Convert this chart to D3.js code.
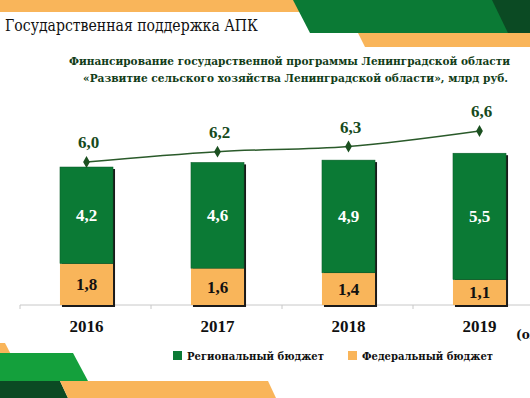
<!DOCTYPE html>
<html>
<head>
<meta charset="utf-8">
<script src="https://cdn.jsdelivr.net/npm/d3@7"></script>
<style>
    body { margin: 0; background: #fff; }
</style>
</head>
<body>
<div id="vis-holder"></div>
<script>
// Chart data
const years = ["2016", "2017", "2018", "2019"];
const federal = [1.8, 1.6, 1.4, 1.1];
const regional = [4.2, 4.6, 4.9, 5.5];
const totals = [6.0, 6.2, 6.3, 6.6];
const totalLabels = ["6,0", "6,2", "6,3", "6,6"];
const federalLabels = ["1,8", "1,6", "1,4", "1,1"];
const regionalLabels = ["4,2", "4,6", "4,9", "5,5"];

const width = 530,
    height = 398;

const green = "#0b7a35",
    orange = "#f9b55a",
    darkGreen = "#0b4a23",
    lightGreen = "#14a03c";

// Liberation Serif has no cyrillic here, so russian text uses DejaVu Serif
const numFont = "'Liberation Serif', serif";
const cyrFont = "'DejaVu Serif'";

const svg = d3.select("#vis-holder")
    .append("svg")
    .attr("width", width)
    .attr("height", height)
    .attr("font-family", numFont)
    .style("display", "block");

// decorative shapes (top right, bottom left)
const deco = svg.append("g").attr("class", "deco");
const poly = (pts, fill) => deco.append("polygon")
    .attr("points", pts.map(p => p.join(",")).join(" "))
    .attr("fill", fill);

poly([[0, 0], [300, 0], [300, 12], [0, 12]], orange);
poly([[293, 0], [530, 0], [530, 33], [310, 33]], green);
poly([[492, 0], [530, 0], [530, 33], [508, 33]], darkGreen);
poly([[358, 33], [530, 33], [530, 47], [365, 47]], orange);

poly([[0, 343], [5, 343], [17, 366], [0, 366]], orange);
poly([[0, 353], [73, 353], [88, 381], [0, 381]], lightGreen);
poly([[0, 381], [60, 381], [68, 398], [0, 398]], darkGreen);
poly([[60, 381], [268, 381], [276, 398], [68, 398]], orange);

// titles
svg.append("text")
    .attr("x", 5)
    .attr("y", 31)
    .style("font-family", cyrFont)
    .attr("font-size", 16)
    .attr("fill", "#111")
    .attr("textLength", 253).attr("lengthAdjust", "spacingAndGlyphs")
    .text("Государственная поддержка АПК");

const sub = svg.append("g")
    .style("font-family", cyrFont)
    .attr("font-size", 11)
    .attr("font-weight", "bold")
    .attr("fill", "#123d18");
sub.append("text").attr("x", 69).attr("y", 65)
    .attr("textLength", 441).attr("lengthAdjust", "spacingAndGlyphs")
    .text("Финансирование государственной программы Ленинградской области");
sub.append("text").attr("x", 83).attr("y", 82)
    .attr("textLength", 425).attr("lengthAdjust", "spacingAndGlyphs")
    .text("«Развитие сельского хозяйства Ленинградской области», млрд руб.");

// scales
const x = d3.scaleBand()
    .domain(years)
    .range([20, 544]);

const y = d3.scaleLinear()
    .domain([0, 6])
    .range([305, 167]);

// secondary axis for the total line
const y2 = d3.scaleLinear()
    .domain([6.0, 6.6])
    .range([162, 131]);

const barW = x.bandwidth() * 0.405;
const cx = d => x(d) + x.bandwidth() / 2 + 1;

// x axis
svg.append("line")
    .attr("x1", 20).attr("x2", width)
    .attr("y1", y(0)).attr("y2", y(0))
    .attr("stroke", "#c8c8c8");
svg.selectAll(".tick")
    .data(years)
    .enter().append("line")
    .attr("x1", d => x(d)).attr("x2", d => x(d))
    .attr("y1", y(0)).attr("y2", y(0) + 4)
    .attr("stroke", "#c8c8c8");

// bars
const bars = svg.append("g");
years.forEach(function (yr, i) {
    const x0 = cx(yr) - barW / 2;
    // shadow
    bars.append("rect")
        .attr("x", x0 + 2).attr("y", y(totals[i]) + 2)
        .attr("width", barW).attr("height", y(0) - y(totals[i]))
        .attr("fill", "#1a1a1a");
    bars.append("rect")
        .attr("x", x0).attr("y", y(federal[i]))
        .attr("width", barW).attr("height", y(0) - y(federal[i]))
        .attr("fill", orange);
    bars.append("rect")
        .attr("x", x0).attr("y", y(federal[i] + regional[i]))
        .attr("width", barW).attr("height", y(federal[i]) - y(federal[i] + regional[i]))
        .attr("fill", green)
        .attr("stroke", "#0a5a28")
        .attr("stroke-width", 0.5);
});

// segment labels
const lbl = svg.append("g")
    .attr("font-size", 17)
    .attr("font-weight", "bold")
    .attr("text-anchor", "middle");
lbl.selectAll(".reg")
    .data(years)
    .enter().append("text")
    .attr("x", d => cx(d))
    .attr("y", (d, i) => (y(federal[i]) + y(federal[i] + regional[i])) / 2 + 6)
    .attr("fill", "#fff")
    .text((d, i) => regionalLabels[i]);
lbl.selectAll(".fed")
    .data(years)
    .enter().append("text")
    .attr("x", d => cx(d))
    .attr("y", (d, i) => (y(0) + y(federal[i])) / 2 + 6)
    .attr("fill", "#111")
    .text((d, i) => federalLabels[i]);

// total line
const line = d3.line()
    .x((d, i) => cx(years[i]))
    .y(d => y2(d))
    .curve(d3.curveMonotoneX);

svg.append("path")
    .datum(totals)
    .attr("d", line)
    .attr("fill", "none")
    .attr("stroke", "#2a5a2a")
    .attr("stroke-width", 1.5);

svg.selectAll(".marker")
    .data(totals)
    .enter().append("path")
    .attr("d", d3.symbol().type(d3.symbolDiamond).size(40))
    .attr("transform", (d, i) => "translate(" + cx(years[i]) + "," + y2(d) + ")")
    .attr("fill", "#1b5020");

lbl.selectAll(".tot")
    .data(totals)
    .enter().append("text")
    .attr("x", (d, i) => cx(years[i]) + 2)
    .attr("y", d => y2(d) - 14)
    .attr("fill", "#164a1c")
    .text((d, i) => totalLabels[i]);

// year labels
lbl.selectAll(".yr")
    .data(years)
    .enter().append("text")
    .attr("x", d => cx(d))
    .attr("y", 332)
    .attr("fill", "#111")
    .text(d => d);

svg.append("text")
    .attr("x", 516).attr("y", 339)
    .style("font-family", cyrFont)
    .attr("font-size", 12)
    .attr("font-weight", "bold")
    .attr("fill", "#111")
    .text("(ожидаемое)");

// legend
const legend = svg.append("g")
    .style("font-family", cyrFont)
    .attr("font-size", 11)
    .attr("font-weight", "bold")
    .attr("fill", "#111");
const legendItems = [
    { label: "Региональный бюджет", color: green, x: 173, w: 137 },
    { label: "Федеральный бюджет", color: orange, x: 348, w: 131 }
];
legendItems.forEach(function (d) {
    legend.append("rect")
        .attr("x", d.x).attr("y", 351)
        .attr("width", 9).attr("height", 9)
        .attr("fill", d.color);
    legend.append("text")
        .attr("x", d.x + 14).attr("y", 360)
        .attr("textLength", d.w).attr("lengthAdjust", "spacingAndGlyphs")
        .text(d.label);
});
</script>
</body>
</html>
